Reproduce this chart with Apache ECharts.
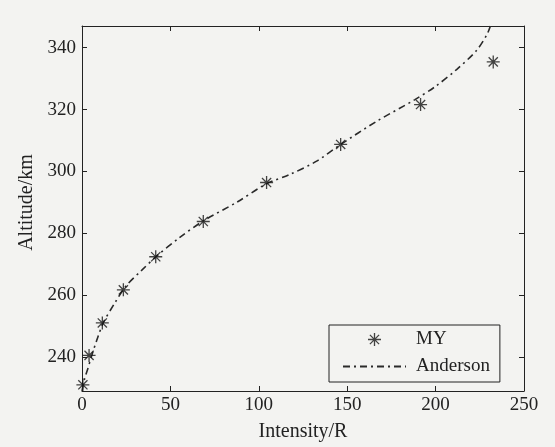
<!DOCTYPE html>
<html>
<head>
<meta charset="utf-8">
<script src="https://cdn.jsdelivr.net/npm/echarts@6/dist/echarts.min.js"></script>
<style>
  html, body { margin: 0; padding: 0; background: #f3f3f1; }
  #chart { width: 555px; height: 447px; }
</style>
</head>
<body>
<div id="chart"></div>
<script>
// MY measurements: intensity (R) and altitude (km)
const myIntensity = [0.5, 4, 11.5, 23.4, 41.7, 68.6, 104.4, 146.3, 191.5, 232.6];
const myAltitude = [231, 240.5, 251, 261.7, 272.4, 283.8, 296.4, 308.7, 321.6, 335.4];

// Anderson model curve
const andersonIntensity = [0, 1.5, 3.2, 5.5, 8.3, 12, 18.7, 25, 33.7, 42, 55, 68.6, 87.5, 104.4, 117.6, 132.7, 146.3, 166.7, 188.3, 200, 212, 223, 229, 231];
const andersonAltitude = [229, 233, 236, 240.5, 245.3, 251, 257.6, 263, 268, 272.5, 278.5, 284, 290, 296, 299, 303.3, 308.7, 316.2, 323.2, 327.5, 333, 339, 344.2, 347];

const xTicks = [0, 50, 100, 150, 200, 250];
const yTicks = [240, 260, 280, 300, 320, 340];

// eight-armed asterisk, like the matlab '*' marker
const ASTERISK = "path://M9 0H11V20H9Z M0 9H20V11H0Z " +
  "M3.64 2.22L17.78 16.36L16.36 17.78L2.22 3.64Z " +
  "M16.36 2.22L17.78 3.64L3.64 17.78L2.22 16.36Z";

const FONT = "Liberation Serif";
const INK = "#222";

const chart = echarts.init(document.getElementById("chart"));

const baseAxis = {
  axisLine: { show: true, onZero: false, lineStyle: { color: INK, width: 1 } },
  axisTick: { show: true, inside: true, length: 5, lineStyle: { color: INK } },
  splitLine: { show: false },
};

chart.setOption({
  backgroundColor: "#f3f3f1",
  animation: false,
  grid: { left: 82, top: 26, right: 31, bottom: 55, show: false },
  legend: {
    orient: "vertical",
    left: 329,
    top: 325,
    padding: [5, 10, 6, 13],
    itemWidth: 63,
    itemHeight: 13,
    itemGap: 8,
    borderColor: INK,
    borderWidth: 1,
    textStyle: { fontFamily: FONT, fontSize: 19, color: INK, padding: [0, 0, 0, 5] },
    data: [
      { name: "MY", icon: ASTERISK },
      { name: "Anderson", itemStyle: { color: "rgba(0,0,0,0)", borderWidth: 0 } },
    ],
  },
  xAxis: [
    Object.assign({}, baseAxis, {
      type: "value",
      min: 0,
      max: 250,
      interval: 50,
      name: "Intensity/R",
      nameLocation: "middle",
      nameGap: 31,
      nameTextStyle: { fontFamily: FONT, fontSize: 20, color: INK },
      axisLabel: {
        fontFamily: FONT, fontSize: 19, color: INK, margin: 5,
        customValues: xTicks,
      },
      axisTick: Object.assign({}, baseAxis.axisTick, { customValues: xTicks }),
    }),
    Object.assign({}, baseAxis, {
      type: "value",
      position: "top",
      min: 0,
      max: 250,
      interval: 50,
      axisLabel: { show: false },
    }),
  ],
  yAxis: [
    Object.assign({}, baseAxis, {
      type: "value",
      min: 229,
      max: 347,
      name: "Altitude/km",
      nameLocation: "middle",
      nameGap: 42,
      nameTextStyle: { fontFamily: FONT, fontSize: 20, color: INK, padding: [0, 0, 0, 12] },
      axisLabel: {
        fontFamily: FONT, fontSize: 19, color: INK, margin: 6,
        customValues: yTicks,
      },
      axisTick: Object.assign({}, baseAxis.axisTick, { customValues: yTicks }),
    }),
    Object.assign({}, baseAxis, {
      type: "value",
      position: "right",
      min: 229,
      max: 347,
      axisLabel: { show: false },
      axisTick: Object.assign({}, baseAxis.axisTick, { customValues: yTicks }),
    }),
  ],
  series: [
    {
      name: "Anderson",
      type: "line",
      data: andersonIntensity.map((x, i) => [x, andersonAltitude[i]]),
      smooth: 0.3,
      symbol: "none",
      showSymbol: false,
      lineStyle: { color: "#2a2a2a", width: 1.6, type: [7, 4, 2, 4] },
      itemStyle: { color: "#2a2a2a" },
      z: 2,
    },
    {
      name: "MY",
      type: "scatter",
      data: myIntensity.map((x, i) => [x, myAltitude[i]]),
      symbol: ASTERISK,
      symbolSize: 13,
      itemStyle: { color: "#151515" },
      z: 3,
    },
  ],
});
</script>
</body>
</html>
